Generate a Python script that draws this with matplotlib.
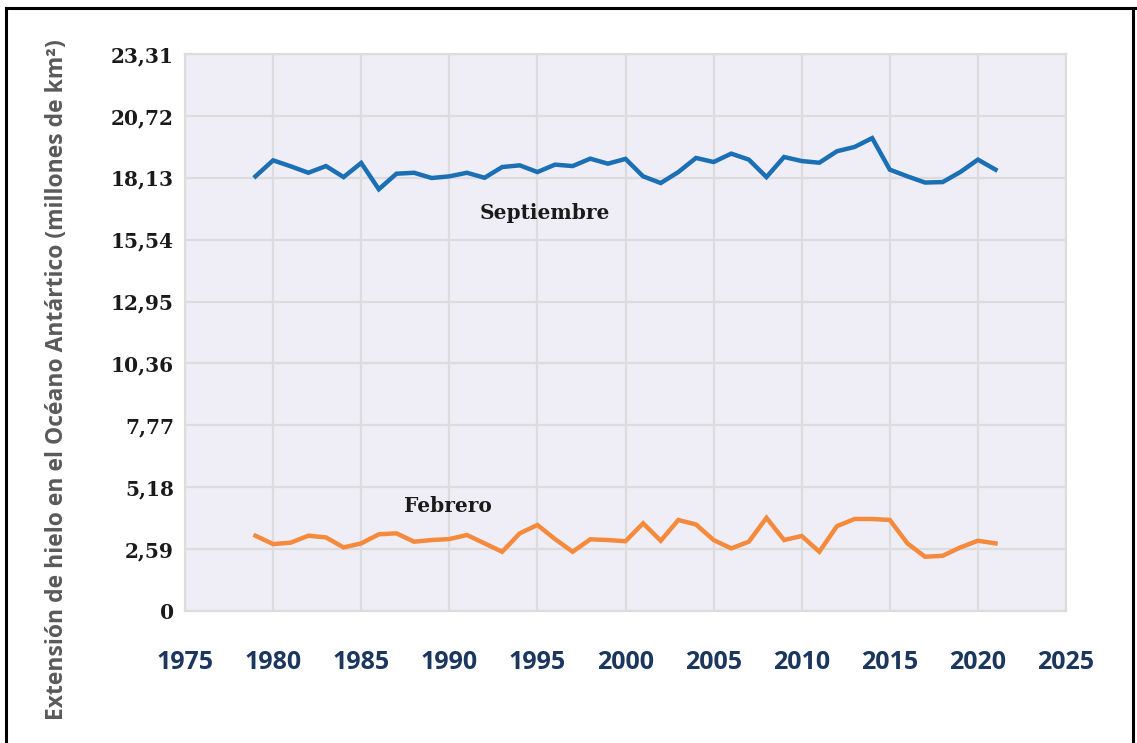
import matplotlib
matplotlib.use("Agg")
import matplotlib.pyplot as plt
from matplotlib.lines import Line2D

years = list(range(1979, 2022))
septiembre = [18.19, 18.86, 18.61, 18.34, 18.62, 18.16, 18.75, 17.65, 18.30, 18.34,
              18.12, 18.19, 18.34, 18.13, 18.58, 18.65, 18.37, 18.68, 18.62, 18.93,
              18.72, 18.92, 18.19, 17.91, 18.37, 18.96, 18.79, 19.14, 18.89, 18.16,
              19.00, 18.83, 18.76, 19.24, 19.42, 19.79, 18.47, 18.19, 17.93, 17.95,
              18.37, 18.89, 18.47]
febrero = [3.15, 2.80, 2.86, 3.15, 3.08, 2.66, 2.83, 3.21, 3.25, 2.90,
           2.97, 3.01, 3.18, 2.83, 2.48, 3.25, 3.60, 3.01, 2.48, 3.00,
           2.97, 2.92, 3.67, 2.94, 3.81, 3.62, 2.97, 2.62, 2.90, 3.90,
           2.97, 3.14, 2.48, 3.55, 3.85, 3.85, 3.81, 2.83, 2.27, 2.31,
           2.66, 2.94, 2.83]
yticks = [0, 2.59, 5.18, 7.77, 10.36, 12.95, 15.54, 18.13, 20.72, 23.31]
ytick_labels = ["0", "2,59", "5,18", "7,77", "10,36", "12,95", "15,54", "18,13", "20,72", "23,31"]
xticks = [1975, 1980, 1985, 1990, 1995, 2000, 2005, 2010, 2015, 2020, 2025]
ylabel = "Extensión de hielo en el Océano Antártico (millones de km²)"

W, H = 1137, 743
fig = plt.figure(figsize=(W / 100, H / 100), dpi=100)
left, right, top, bottom = 185, 1066, 54, 611
ax = fig.add_axes([left / W, 1 - bottom / H, (right - left) / W, (bottom - top) / H])
ax.set_facecolor("#EFEDF6")
ax.set_xlim(1975, 2025)
ax.set_ylim(0, 23.31)
ax.set_xticks(xticks)
ax.set_yticks(yticks)
ax.set_yticklabels(ytick_labels)
ax.grid(True, color="#DCDCDC", linewidth=1.6)
ax.set_axisbelow(True)
for s in ax.spines.values():
    s.set_color("#DCDCDC")
    s.set_linewidth(1.6)
ax.tick_params(length=0)
for lab in ax.get_xticklabels():
    lab.set_fontfamily("Open Sans")
    lab.set_fontweight("bold")
    lab.set_fontsize(18)
    lab.set_color("#1B365F")
ax.tick_params(axis="x", pad=28)
for lab in ax.get_yticklabels():
    lab.set_fontfamily("DejaVu Serif")
    lab.set_fontweight("bold")
    lab.set_fontsize(14.5)
    lab.set_color("#1A1A1A")
ax.tick_params(axis="y", pad=8)

ax.plot(years, septiembre, color="#1A6FB5", linewidth=3.2, solid_joinstyle="miter")
ax.plot(years, febrero, color="#F58A3C", linewidth=3.2, solid_joinstyle="miter")

ax.text(1995.4, 16.65, "Septiembre", fontsize=14.5, fontweight="bold", color="#1A1A1A",
        ha="center", va="center", family="DejaVu Serif")
ax.text(1989.9, 4.4, "Febrero", fontsize=14.5, fontweight="bold", color="#1A1A1A",
        ha="center", va="center", family="DejaVu Serif")

fig.text(57 / W, 1 - 380 / H, ylabel, rotation=90, ha="center", va="center",
         fontsize=16.5, color="#5A5A5A", family="Open Sans", fontweight="bold")

# outer frame
fig.add_artist(Line2D([6 / W, 6 / W], [0, 1 - 8 / H], transform=fig.transFigure, color="black", lw=2.2))
fig.add_artist(Line2D([6 / W, 1], [1 - 8 / H, 1 - 8 / H], transform=fig.transFigure, color="black", lw=2.2))
fig.add_artist(Line2D([1133 / W, 1133 / W], [0, 1 - 8 / H], transform=fig.transFigure, color="black", lw=2.2))

fig.savefig("out.png", dpi=100)
